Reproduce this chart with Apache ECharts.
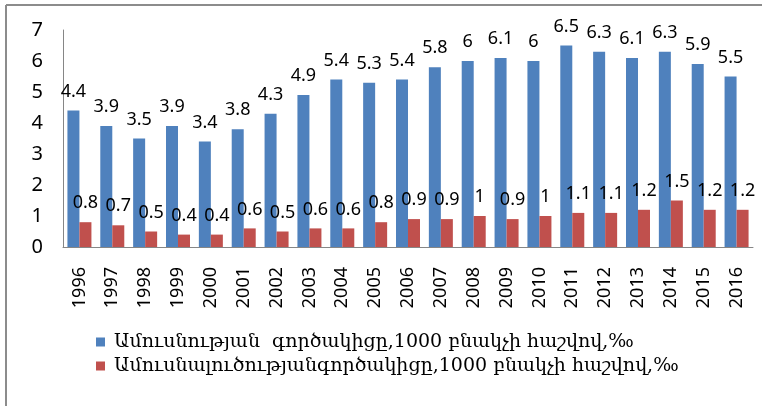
<!DOCTYPE html>
<html lang="hy">
<head>
    <meta charset="UTF-8">
    <title>Ամուսնության և ամուսնալուծության գործակիցներ</title>
    <script src="https://cdn.jsdelivr.net/npm/echarts@6/dist/echarts.min.js"></script>
    <style>
        html, body { margin: 0; padding: 0; background: #fff; }
        #chart { width: 762px; height: 406px; }
    </style>
</head>
<body>
    <div id="chart"></div>
    <script>
        // տվյալներ
        const years = ['1996', '1997', '1998', '1999', '2000', '2001', '2002', '2003', '2004', '2005', '2006',
                       '2007', '2008', '2009', '2010', '2011', '2012', '2013', '2014', '2015', '2016'];
        const marriageRate = [4.4, 3.9, 3.5, 3.9, 3.4, 3.8, 4.3, 4.9, 5.4, 5.3, 5.4, 5.8, 6, 6.1, 6, 6.5, 6.3, 6.1, 6.3, 5.9, 5.5];
        const divorceRate = [0.8, 0.7, 0.5, 0.4, 0.4, 0.6, 0.5, 0.6, 0.6, 0.8, 0.9, 0.9, 1, 0.9, 1, 1.1, 1.1, 1.2, 1.5, 1.2, 1.2];
        const seriesNames = [
            'Ամուսնության  գործակիցը,1000 բնակչի հաշվով,‰',
            'Ամուսնալուծությանգործակիցը,1000 բնակչի հաշվով,‰'
        ];

        const chart = echarts.init(document.getElementById('chart'));
        const labelFont = '"Noto Sans", "DejaVu Sans", sans-serif';

        const option = {
            animation: false,
            color: ['#4F81BD', '#C0504D'],
            grid: { left: 63, right: 9, top: 30, bottom: 159, containLabel: false },
            // рамка
            graphic: [
                { type: 'line', shape: { x1: 6, y1: 5, x2: 6, y2: 406 }, style: { stroke: '#8c8c8c', lineWidth: 2 } },
                { type: 'line', shape: { x1: 6, y1: 5, x2: 762, y2: 5 }, style: { stroke: '#8c8c8c', lineWidth: 2 } }
            ],
            legend: {
                orient: 'vertical',
                left: 91,
                top: 327,
                itemWidth: 9,
                itemHeight: 9,
                itemGap: 4,
                icon: 'rect',
                textStyle: {
                    fontFamily: '"DejaVu Serif", serif',
                    fontSize: 19,
                    lineHeight: 20,
                    color: '#000',
                    padding: [0, 0, 0, 4]
                },
                data: seriesNames
            },
            xAxis: {
                type: 'category',
                data: years,
                axisLine: { lineStyle: { color: '#868686', width: 1 } },
                axisTick: { show: false },
                axisLabel: {
                    rotate: 90,
                    margin: 20,
                    fontSize: 18,
                    fontFamily: labelFont,
                    color: '#000',
                    interval: 0
                }
            },
            yAxis: {
                type: 'value',
                min: 0,
                max: 7,
                interval: 1,
                splitLine: { show: false },
                axisLine: { show: true, lineStyle: { color: '#868686', width: 1 } },
                axisTick: { show: false },
                axisLabel: {
                    margin: 20,
                    fontSize: 20,
                    fontFamily: labelFont,
                    color: '#000'
                }
            },
            series: [
                {
                    name: seriesNames[0],
                    type: 'bar',
                    data: marriageRate,
                    barWidth: 12,
                    barGap: '0%',
                    label: {
                        show: true,
                        position: 'top',
                        distance: 10,
                        fontSize: 18,
                        fontFamily: labelFont,
                        color: '#000'
                    }
                },
                {
                    name: seriesNames[1],
                    type: 'bar',
                    data: divorceRate,
                    barWidth: 12,
                    label: {
                        show: true,
                        position: 'top',
                        distance: 10,
                        fontSize: 18,
                        fontFamily: labelFont,
                        color: '#000'
                    }
                }
            ]
        };

        chart.setOption(option);
    </script>
</body>
</html>
